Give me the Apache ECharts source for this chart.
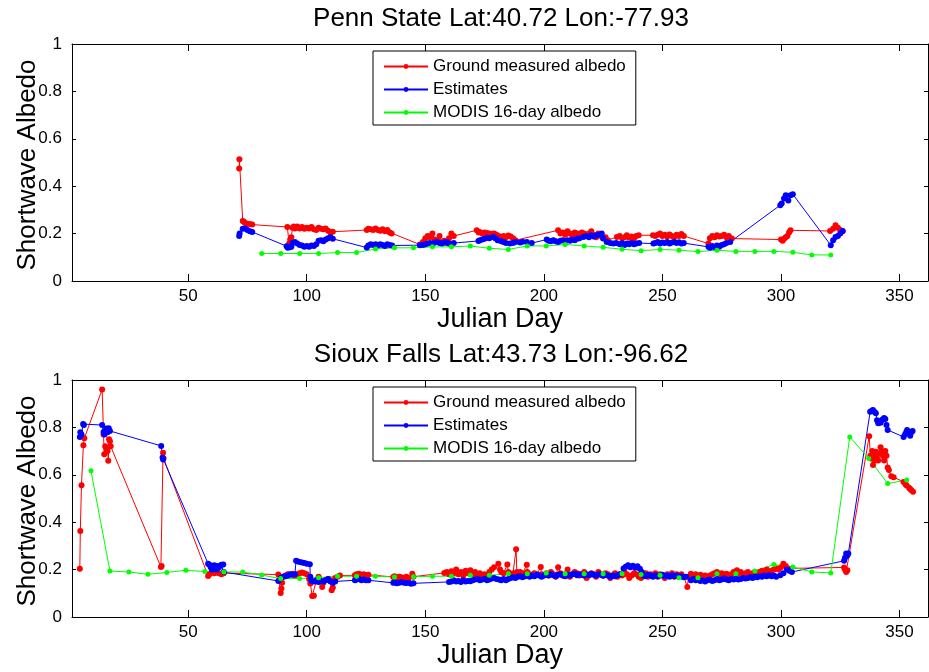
<!DOCTYPE html>
<html>
<head>
<meta charset="utf-8">
<script src="https://cdn.jsdelivr.net/npm/echarts@6/dist/echarts.min.js"></script>
<style>html,body{margin:0;padding:0;background:#fff;}#c{width:929px;height:672px;}</style>
</head>
<body>
<div id="c"></div>
<script>
const legendNames = ['Ground measured albedo', 'Estimates', 'MODIS 16-day albedo'];
const titles = ['Penn State Lat:40.72 Lon:-77.93', 'Sioux Falls Lat:43.73 Lon:-96.62'];
const xTicks = [50, 100, 150, 200, 250, 300, 350];
const yTicks = [0, 0.2, 0.4, 0.6, 0.8, 1];

const pennGround = [
[71.5,0.475],[71.6,0.514],[73,0.253],[73.5,0.25],[74,0.245],[75,0.242],[76,0.24],[77,0.238],
[91.8,0.228],[92.6,0.158],[93,0.175],[93.5,0.185],[94,0.225],[94.5,0.23],[95,0.222],[96,0.23],[97,0.222],[98,0.228],[99,0.22],[100,0.225],[101,0.222],[102,0.228],[103,0.218],[104,0.215],[105,0.225],[106,0.22],[107,0.218],[108,0.222],[109,0.212],[110,0.205],[111,0.208],
[125.3,0.215],[126,0.22],[127,0.218],[128,0.215],[129,0.222],[130,0.215],[131,0.212],[132,0.218],[133,0.21],[134,0.215],[135,0.205],[135.8,0.2],
[147.7,0.154],[149,0.165],[150,0.18],[151,0.19],[152,0.185],[153,0.2],[154,0.175],[155,0.17],[156,0.19],[157,0.165],[158,0.17],[159,0.16],[160,0.18],[161,0.2],[162,0.19],
[171.7,0.214],[172.5,0.205],[173,0.207],[174,0.2],[175,0.205],[176,0.203],[177,0.2],[178,0.198],[179,0.2],[180,0.195],[181,0.19],[182,0.185],[183,0.19],[184,0.185],[185,0.192],[186,0.188],[187,0.18],[188,0.172],
[206,0.214],[207,0.2],[208,0.205],[209,0.195],[210,0.21],[211,0.2],[212,0.19],[213,0.205],[214,0.2],[215,0.195],[216,0.205],[217,0.2],[218,0.19],[219,0.2],[220,0.21],[221,0.195],[222,0.185],[223,0.2],[224,0.19],[225,0.18],[226,0.185],[227,0.172],
[230.8,0.186],[232,0.19],[233,0.18],[234,0.185],[235,0.193],[236,0.182],[237,0.188],[238,0.179],[239,0.19],[240,0.193],
[246,0.193],[247,0.19],[248,0.195],[249,0.2],[250,0.19],[251,0.195],[252,0.188],[253,0.196],[254,0.19],[255,0.186],[256,0.195],[257,0.19],[258,0.198],[259,0.19],
[269.4,0.158],[270,0.18],[271,0.19],[272,0.185],[273,0.193],[274,0.188],[275,0.19],[276,0.195],[277,0.185],[278,0.19],[279.3,0.179],
[300,0.175],[300.7,0.17],[301.3,0.178],[302,0.185],[302.7,0.19],[303.4,0.205],[304,0.214],
[320.7,0.211],[322,0.22],[323,0.235],[324,0.225],[325,0.215],[326,0.21]
];
const pennEstimates = [
[71.5,0.19],[71.7,0.2],[73,0.22],[74,0.222],[75,0.215],[76,0.21],[77,0.207],
[91.5,0.147],[92,0.14],[93,0.142],[93.5,0.145],[94,0.16],[95,0.165],[96,0.158],[97,0.152],[98,0.15],[99,0.145],[100,0.148],[101,0.145],[102,0.15],[103,0.148],[104,0.155],[105,0.17],[106,0.172],[107,0.168],[108,0.175],[109,0.18],[110,0.185],[111,0.178],
[125.3,0.141],[126,0.15],[127,0.155],[128,0.152],[129,0.155],[130,0.15],[131,0.155],[132,0.152],[133,0.148],[134,0.155],[135,0.152],[136,0.15],
[147.7,0.151],[149,0.152],[150,0.155],[151,0.158],[152,0.16],[153,0.155],[154,0.162],[155,0.165],[156,0.16],[157,0.158],[158,0.162],[159,0.165],[160,0.158],[162,0.16],
[172.4,0.169],[173,0.172],[174,0.175],[175,0.178],[176,0.182],[177,0.18],[178.7,0.186],[179.5,0.18],[180.5,0.172],[182,0.168],[183,0.165],[184,0.16],[185.7,0.158],[187,0.16],[188,0.165],[190,0.162],[191,0.166],[192.8,0.165],[194.9,0.16],
[201.2,0.175],[202,0.17],[203,0.168],[204,0.172],[205,0.168],[206,0.165],[207,0.17],[208,0.172],[209,0.168],[210,0.172],[211,0.17],[212,0.175],[213,0.172],[214,0.178],[215,0.18],[216.7,0.186],[218,0.19],[219,0.185],[220,0.193],[221,0.188],[222,0.192],[223,0.195],[224.4,0.2],[225,0.179],[226.5,0.165],[228,0.16],[229.3,0.158],
[230.5,0.16],[232,0.155],[233,0.16],[234,0.152],[235,0.158],[236,0.155],[237,0.16],[238,0.155],[239,0.158],[240.2,0.16],
[246.2,0.158],[247,0.16],[248,0.165],[249,0.158],[250,0.162],[251,0.16],[252,0.165],[253,0.158],[254,0.162],[255,0.165],[256,0.16],[257,0.163],[258,0.158],[259,0.16],
[269.4,0.144],[270,0.14],[271,0.148],[272,0.142],[273,0.15],[274,0.145],[275,0.152],[276,0.155],[277,0.16],[278.6,0.165],
[299.7,0.32],[300.3,0.327],[301.3,0.348],[302,0.362],[303.1,0.34],[304,0.362],[305,0.366],
[321,0.151],[322,0.172],[323,0.186],[324,0.19],[325,0.2],[326,0.211]
];
const pennModis = [
[81,0.116],[89,0.116],[97,0.116],[105,0.116],[113,0.12],[121,0.12],[129,0.135],[137,0.14],[145,0.14],[153,0.144],[161,0.144],[169,0.148],[177,0.138],[185,0.133],[193,0.148],[201,0.148],[209,0.154],[217,0.148],[225,0.142],[233,0.134],[241,0.128],[249,0.133],[257,0.13],[265,0.124],[273,0.13],[281,0.125],[289,0.125],[297,0.125],[305,0.121],[313,0.11],[321,0.11]
];

const siouxGround = [
[4.3,0.204],[4.5,0.363],[5,0.556],[5.8,0.725],[6.2,0.754],[13.7,0.96],[14.3,0.77],[14.6,0.687],[15,0.72],[15.5,0.71],[16,0.7],[16.3,0.659],[16.6,0.75],[17,0.742],[17.3,0.72],
[38.5,0.211],[38.8,0.215],[39.4,0.693],[39.6,0.67],
[58.4,0.173],[59,0.18],[60,0.19],[61,0.185],[62,0.188],[63,0.185],[64,0.18],[65,0.185],
[88,0.179],[89,0.101],[89.3,0.12],[89.6,0.145],[90,0.17],[91,0.175],[92,0.18],[93,0.178],[94,0.182],[95,0.175],[96,0.18],[97,0.185],[98,0.188],[99,0.185],[100,0.18],[101,0.16],[101.5,0.141],[102.3,0.089],[103,0.09],[104,0.15],[105,0.17],[106,0.15],[106.5,0.127],[107,0.145],[108,0.155],[109,0.16],[110,0.155],[110.5,0.113],[111,0.125],[112,0.165],[113,0.17],[114,0.175],
[120.3,0.176],[121,0.18],[122,0.183],[123,0.178],[124,0.18],[125,0.175],[126,0.178],
[136.5,0.169],[137,0.172],[138,0.165],[139,0.17],[140,0.168],[141,0.165],[142,0.17],[143,0.165],[144.5,0.183],[145,0.17],
[158,0.186],[159,0.19],[160,0.18],[161,0.193],[162,0.185],[163,0.2],[164,0.18],[165,0.19],[166,0.175],[167,0.195],[168,0.185],[169,0.197],[170,0.18],[171,0.19],[172,0.175],[173,0.185],[174,0.17],[175,0.18],[176,0.175],[177,0.19],[178,0.2],[179,0.21],[180.8,0.225],[181.5,0.2],[182,0.19],[183,0.185],[184.6,0.222],[185,0.19],[186,0.18],[187,0.185],[188.3,0.286],[188.6,0.19],[189,0.18],[190,0.19],[191,0.185],[192.8,0.22],[193,0.19],[194,0.18],[195,0.175],[196,0.185],[197,0.18],[198.7,0.211],[199,0.18],[200,0.175],
[201,0.185],[202,0.175],[203,0.19],[204,0.18],[205,0.17],[206,0.21],[207,0.185],[208,0.175],[209,0.18],[210,0.2],[211,0.17],[212,0.18],[213,0.19],[214,0.185],[215,0.175],[216,0.18],[217,0.19],[218,0.165],[219,0.175],[220,0.185],[221,0.18],[222,0.17],[223,0.19],[224,0.18],[225,0.175],[226,0.185],[227,0.18],[228,0.165],[229,0.175],[230,0.185],[231,0.17],[232,0.18],[233,0.175],[234,0.19],[235,0.18],[236,0.165],[237,0.175],[238,0.185],[239,0.18],[240,0.17],[241,0.165],[242,0.175],[243,0.185],[244,0.17],[245,0.18],[246,0.175],[247,0.185],[248,0.17],[249,0.18],[250,0.175],[251,0.165],[252,0.18],[253,0.175],[254,0.185],[255,0.17],[256,0.18],[257,0.175],[258,0.18],[259,0.17],[260.5,0.127],[261,0.17],
[262,0.183],[263,0.175],[264,0.18],[265,0.172],[266,0.178],[267,0.17],[268,0.175],[269,0.168],[270,0.175],[271,0.18],[272,0.185],[273,0.19],[274,0.18],[275,0.185],[276,0.178],[277,0.182],[278,0.175],[279,0.18],[280,0.19],[281.4,0.197],[282,0.185],[283,0.19],[284,0.18],[285,0.185],[286,0.19],[287,0.18],[288,0.185],[289,0.19],[290,0.185],[291,0.19],[292,0.195],[293,0.19],[294,0.2],[295,0.19],[296,0.195],[297,0.2],[298,0.205],[299,0.2],[300,0.21],[301,0.225],[302,0.215],[303,0.205],
[326.6,0.209],[327,0.2],[327.5,0.19],[328,0.197],
[337.2,0.763],[337.7,0.68],[338.1,0.669],[338.5,0.7],[338.8,0.641],[339.3,0.68],[339.7,0.66],[340,0.697],[340.5,0.67],[341,0.66],[341.5,0.69],[342,0.716],[342.5,0.7],[343,0.68],[343.5,0.66],[344,0.7],[344.5,0.68],[345,0.631],[345.5,0.62],[346.5,0.594],[347.5,0.59],
[351.7,0.57],[352.5,0.56],[353,0.555],[354,0.545],[354.5,0.54],[355,0.535],[355.7,0.528]
];
const siouxEstimates = [
[4.3,0.76],[4.5,0.78],[5,0.77],[5.7,0.814],[6,0.81],[13.7,0.81],[14.3,0.781],[14.7,0.77],[15,0.785],[15.5,0.795],[16,0.78],[16.5,0.796],[17,0.785],
[38.6,0.722],[39.2,0.673],[39.4,0.665],
[58.4,0.225],[59,0.22],[59.5,0.21],[60,0.2],[61,0.218],[61.5,0.205],[62,0.2],[62.5,0.215],[63,0.21],[64,0.22],[64.8,0.221],[65,0.19],
[88,0.152],[89,0.165],[90,0.17],[91,0.172],[92,0.175],[93,0.18],[94,0.178],[95,0.18],[95.5,0.237],[96,0.235],[97,0.232],[98,0.23],[99,0.228],[100,0.225],[101.3,0.223],[101.5,0.17],[102,0.152],[103,0.15],[104,0.155],[105,0.148],[106,0.152],[107,0.15],[108,0.155],[109,0.16],[110,0.15],[111,0.145],[112,0.15],
[120.3,0.155],[121,0.158],[122,0.16],[123,0.155],[124,0.158],[125,0.155],[126,0.155],
[136.5,0.144],[137,0.146],[138,0.142],[139,0.145],[140,0.148],[141,0.145],[142,0.143],[143,0.145],[144,0.14],[145,0.142],
[160,0.148],[161,0.15],[162,0.155],[163,0.15],[164,0.152],[165,0.148],[166,0.155],[167,0.15],[168,0.152],[169,0.151],[170,0.155],[171,0.158],[172,0.16],[173,0.155],[174,0.158],[175,0.16],[176,0.155],[177,0.158],[178,0.162],[179,0.165],[180,0.16],[181,0.158],[182,0.155],[183,0.16],[184,0.155],[185,0.16],[186,0.165],[187,0.168],[188,0.165],[189,0.17],[190,0.172],[191,0.168],[192,0.172],[193,0.175],[194,0.17],[195,0.175],[196,0.172],[197,0.178],[198,0.175],[199,0.17],[200,0.175],
[201,0.178],[202,0.175],[203,0.18],[204,0.176],[205,0.172],[206,0.178],[207,0.18],[208,0.175],[209,0.172],[210,0.178],[211,0.175],[212,0.18],[213,0.182],[214,0.176],[215,0.18],[216,0.178],[217,0.175],[218,0.18],[219,0.176],[220,0.182],[221,0.178],[222,0.175],[223,0.18],[224,0.178],[225,0.174],[226,0.178],[227,0.175],[228,0.17],[229,0.175],[230,0.172],[231,0.176],[232,0.18],[233.6,0.205],[234.5,0.212],[235.5,0.218],[236.5,0.21],[237.5,0.216],[238.5,0.208],[239.5,0.214],[240.5,0.204],[241.3,0.19],[242,0.175],[243,0.172],[244,0.178],[245,0.175],[246,0.17],[247,0.176],[248,0.172],[249,0.175],[250,0.178],[251,0.172],[252,0.175],[253,0.17],[254,0.176],[255,0.172],[256,0.175],[257,0.17],[258,0.172],[259,0.168],[260,0.17],
[262,0.155],[263,0.16],[264,0.155],[265,0.158],[266,0.152],[267,0.155],[268,0.15],[269,0.155],[270,0.158],[271,0.152],[272,0.155],[273,0.16],[274,0.155],[275,0.158],[276,0.162],[277,0.158],[278,0.155],[279,0.16],[280,0.158],[281,0.162],[282,0.158],[283,0.16],[284,0.165],[285,0.162],[286,0.165],[287,0.168],[288,0.165],[289,0.17],[290,0.168],[291,0.172],[292,0.17],[293,0.175],[294,0.172],[295,0.176],[296,0.172],[297,0.175],[298,0.17],[299.7,0.176],[301,0.185],[302.5,0.2],[303.5,0.195],[304.6,0.19],
[326.6,0.237],[327,0.25],[327.5,0.268],[328,0.26],[328.4,0.268],
[337.6,0.866],[338.3,0.87],[338.8,0.873],[339.5,0.865],[340,0.86],[340.5,0.83],[341,0.817],[341.5,0.825],[342,0.82],[342.5,0.83],[343,0.834],[343.5,0.84],[344,0.835],[344.5,0.81],[345,0.789],
[351.7,0.76],[352.3,0.77],[352.8,0.78],[353.2,0.789],[354,0.775],[354.5,0.765],[355,0.78],[355.5,0.785]
];
const siouxModis = [
[9,0.617],[17,0.194],[25,0.19],[33,0.18],[41,0.188],[49,0.197],[57,0.192],[65,0.19],[73,0.19],[81,0.177],[89,0.162],[97,0.162],[105,0.166],[113,0.172],[121,0.172],[129,0.172],[137,0.169],[145,0.17],[153,0.172],[161,0.172],[169,0.176],[177,0.176],[185,0.183],[193,0.183],[201,0.186],[209,0.183],[217,0.183],[225,0.183],[233,0.183],[241,0.179],[249,0.176],[257,0.166],[265,0.166],[273,0.183],[281,0.183],[289,0.194],[297,0.221],[305,0.211],[313,0.19],[321,0.186],[329,0.76],[337,0.669],[345,0.563],[353,0.578]
];

const FONT = "'Liberation Sans', Arial, Helvetica, sans-serif";
const colors = ['#ff0000', '#0000ff', '#00ff00'];
const chart = echarts.init(document.getElementById('c'), null, {renderer: 'canvas'});

const gridTops = [44, 380];
const grids = gridTops.map(t => ({left: 72, top: t, width: 856, height: 237, show: false}));

function xAx(g, pos) {
  return {
    type: 'value', gridIndex: g, position: pos, min: 1, max: 362,
    axisLine: {show: true, onZero: false, lineStyle: {color: '#000', width: 1}},
    axisTick: {show: true, inside: true, length: 7, customValues: xTicks, lineStyle: {color: '#000', width: 1}},
    axisLabel: {show: pos === 'bottom', customValues: xTicks, color: '#000', fontSize: 17, fontFamily: FONT, margin: 7},
    splitLine: {show: false}
  };
}
function yAx(g, pos) {
  return {
    type: 'value', gridIndex: g, position: pos, min: 0, max: 1,
    axisLine: {show: true, onZero: false, lineStyle: {color: '#000', width: 1}},
    axisTick: {show: true, inside: true, length: 4, customValues: yTicks, lineStyle: {color: '#000', width: 1}},
    axisLabel: {show: pos === 'left', customValues: yTicks, color: '#000', fontSize: 17, fontFamily: FONT, margin: 10,
      formatter: v => String(Math.round(v * 10) / 10)},
    splitLine: {show: false}
  };
}

const xAxes = [xAx(0, 'bottom'), xAx(1, 'bottom'), xAx(0, 'top'), xAx(1, 'top')];
const yAxes = [yAx(0, 'left'), yAx(1, 'left'), yAx(0, 'right'), yAx(1, 'right')];

function mkSeries(name, data, g, ci, size) {
  return {
    name: name, type: 'line', xAxisIndex: g, yAxisIndex: g, data: data,
    symbol: 'circle', symbolSize: size, showSymbol: true,
    lineStyle: {color: colors[ci], width: 1},
    itemStyle: {color: colors[ci]},
    emphasis: {disabled: true}, animation: false
  };
}

const series = [
  mkSeries(legendNames[0], pennGround, 0, 0, 6),
  mkSeries(legendNames[1], pennEstimates, 0, 1, 6),
  mkSeries(legendNames[2], pennModis, 0, 2, 5),
  mkSeries(legendNames[0], siouxGround, 1, 0, 6),
  mkSeries(legendNames[1], siouxEstimates, 1, 1, 6),
  mkSeries(legendNames[2], siouxModis, 1, 2, 5)
];

const legends = [51, 387].map(t => ({
  orient: 'vertical', left: 373, top: t, data: legendNames,
  padding: [7, 10, 4, 10], itemGap: 6, itemWidth: 44, itemHeight: 6,
  borderColor: '#000', borderWidth: 1, backgroundColor: '#fff',
  textStyle: {fontSize: 17, color: '#000', fontFamily: FONT},
  selectedMode: false
}));

const graphics = [];
titles.forEach((t, i) => {
  const off = i === 0 ? 0 : 336;
  graphics.push({type: 'text', x: 501, y: 19 + off, style: {text: t, font: '26px ' + FONT, fill: '#000', textAlign: 'center', textVerticalAlign: 'middle'}});
  graphics.push({type: 'text', x: 500, y: 320 + off, style: {text: 'Julian Day', font: '27px ' + FONT, fill: '#000', textAlign: 'center', textVerticalAlign: 'middle'}});
  graphics.push({type: 'text', x: 28, y: 165 + off, rotation: Math.PI / 2, style: {text: 'Shortwave Albedo', font: '26px ' + FONT, fill: '#000', textAlign: 'center', textVerticalAlign: 'middle'}});
});

chart.setOption({
  backgroundColor: '#fff',
  animation: false,
  grid: grids,
  xAxis: xAxes,
  yAxis: yAxes,
  legend: legends,
  series: series,
  graphic: graphics
});
</script>
</body>
</html>
